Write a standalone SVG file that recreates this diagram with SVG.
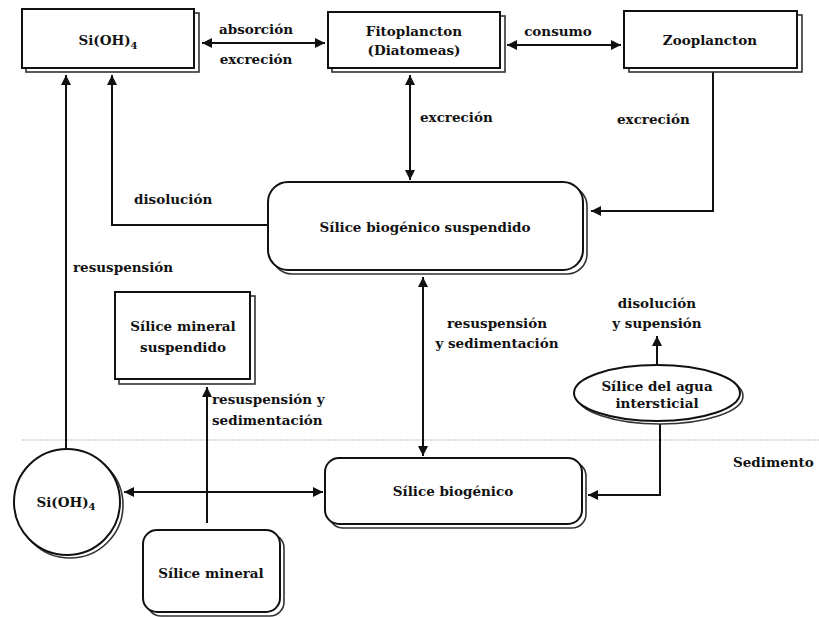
<svg xmlns="http://www.w3.org/2000/svg" width="819" height="617" viewBox="0 0 819 617">
<style>
.b{fill:#fff;stroke:#111;stroke-width:2}
.s{fill:#fff;stroke:#333;stroke-width:1.6}
.t{font-family:"DejaVu Serif","Liberation Serif",serif;font-weight:bold;font-size:13.5px;fill:#111;text-anchor:middle}
.l{font-family:"DejaVu Serif","Liberation Serif",serif;font-weight:bold;font-size:13.5px;fill:#111}
.c{fill:none;stroke:#111;stroke-width:2}
</style>
<defs>
<marker id="a" viewBox="0 0 10 10" refX="10" refY="5" markerWidth="5" markerHeight="5" orient="auto-start-reverse">
<path d="M0,0 L10,5 L0,10 z" fill="#111"/>
</marker>
</defs>
<rect width="819" height="617" fill="#fff"/>
<line x1="22" y1="440" x2="819" y2="440" stroke="#bbb" stroke-width="1.2" stroke-dasharray="2,1"/>
<g id="connectors">
<line class="c" x1="202" y1="43" x2="325" y2="43" marker-start="url(#a)" marker-end="url(#a)"/>
<line class="c" x1="507" y1="45" x2="621" y2="45" marker-start="url(#a)" marker-end="url(#a)"/>
<line class="c" x1="410" y1="75" x2="410" y2="180" marker-start="url(#a)" marker-end="url(#a)"/>
<polyline class="c" points="713,72 713,211 591,211" marker-end="url(#a)"/>
<polyline class="c" points="268,225 112,225 112,75" marker-end="url(#a)"/>
<line class="c" x1="66" y1="449" x2="66" y2="75" marker-end="url(#a)"/>
<line class="c" x1="207" y1="523" x2="207" y2="387" marker-end="url(#a)"/>
<line class="c" x1="423" y1="277" x2="423" y2="456" marker-start="url(#a)" marker-end="url(#a)"/>
<line class="c" x1="124" y1="492" x2="323" y2="492" marker-start="url(#a)" marker-end="url(#a)"/>
<line class="c" x1="657" y1="364" x2="657" y2="336" marker-end="url(#a)"/>
<polyline class="c" points="660,423 660,495 588,495" marker-end="url(#a)"/>
</g>
<g id="n_sioh_top">
<rect class="s" x="26" y="13" width="173" height="59"/>
<rect class="b" x="22" y="9" width="172" height="59"/>
<text class="t" x="108" y="45" font-size="14">Si(OH)<tspan font-size="10" dy="4">4</tspan></text>
</g>
<g id="n_fito">
<rect class="s" x="332" y="16" width="173" height="56"/>
<rect class="b" x="328" y="12" width="172" height="56"/>
<text class="t" x="414" y="36" font-size="14">Fitoplancton</text>
<text class="t" x="414" y="55" font-size="14">(Diatomeas)</text>
</g>
<g id="n_zoo">
<rect class="s" x="629" y="15" width="173" height="57"/>
<rect class="b" x="624" y="11" width="173" height="57"/>
<text class="t" x="710" y="45" font-size="14">Zooplancton</text>
</g>
<g id="n_sbs">
<rect class="s" x="272" y="186" width="315" height="88" rx="20"/>
<rect class="b" x="268" y="182" width="315" height="88" rx="20"/>
<text class="t" x="425" y="232" font-size="14">Sílice biogénico suspendido</text>
</g>
<g id="n_sms">
<rect class="s" x="119" y="296" width="136" height="88"/>
<rect class="b" x="115" y="292" width="135" height="87"/>
<text class="t" x="183" y="331" font-size="14">Sílice mineral</text>
<text class="t" x="183" y="352" font-size="14">suspendido</text>
</g>
<g id="n_agua">
<ellipse class="s" cx="660" cy="396" rx="83" ry="28"/>
<ellipse class="b" cx="657" cy="393" rx="83" ry="28"/>
<text class="t" x="657" y="391" font-size="11.5">Sílice del agua</text>
<text class="t" x="657" y="408" font-size="11.5">intersticial</text>
</g>
<g id="n_sioh_bot">
<circle class="s" cx="70" cy="505" r="53"/>
<circle class="b" cx="67" cy="502" r="53"/>
<text class="t" x="66" y="507" font-size="14">Si(OH)<tspan font-size="10" dy="3">4</tspan></text>
</g>
<g id="n_sb">
<rect class="s" x="329" y="462" width="257" height="66" rx="14"/>
<rect class="b" x="325" y="458" width="257" height="66" rx="14"/>
<text class="t" x="453" y="496" font-size="14">Sílice biogénico</text>
</g>
<g id="n_sm">
<rect class="s" x="147" y="534" width="137" height="82" rx="14"/>
<rect class="b" x="143" y="530" width="137" height="82" rx="14"/>
<text class="t" x="211" y="578" font-size="14">Sílice mineral</text>
</g>
<g id="labels">
<text class="t" x="256" y="34">absorción</text>
<text class="t" x="256" y="64">excreción</text>
<text class="t" x="558" y="36">consumo</text>
<text class="l" x="420" y="122">excreción</text>
<text class="l" x="617" y="124">excreción</text>
<text class="l" x="134" y="204">disolución</text>
<text class="l" x="73" y="272">resuspensión</text>
<text class="l" x="212" y="404">resuspensión y</text>
<text class="l" x="212" y="425">sedimentación</text>
<text class="t" x="497" y="328">resuspensión</text>
<text class="t" x="497" y="348">y sedimentación</text>
<text class="t" x="657" y="308">disolución</text>
<text class="t" x="657" y="328">y supensión</text>
<text class="l" x="733" y="467">Sedimento</text>
</g>
</svg>
